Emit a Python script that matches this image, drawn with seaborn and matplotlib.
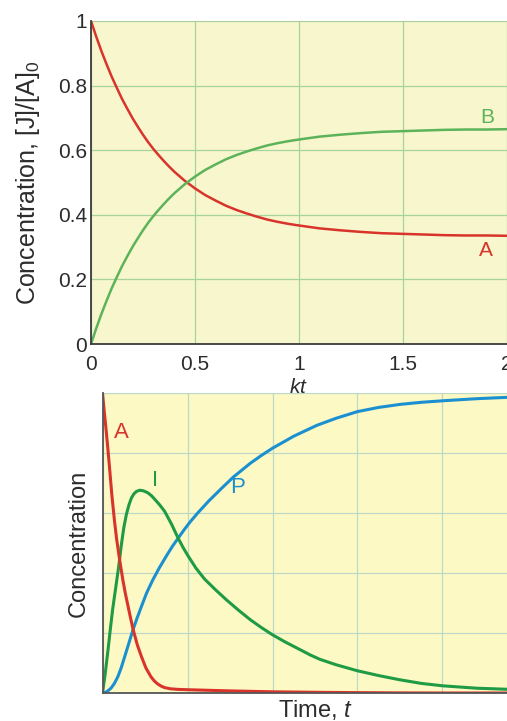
import matplotlib
matplotlib.use("Agg")
import matplotlib.pyplot as plt
import seaborn as sns
import pandas as pd

# ---- Reversible reaction A <=> B (upper panel) ----
kt = [0, 0.025, 0.05, 0.075, 0.1, 0.125, 0.15, 0.175, 0.2, 0.225, 0.25, 0.275,
      0.3, 0.325, 0.35, 0.375, 0.4, 0.45, 0.5, 0.55, 0.6, 0.65, 0.7, 0.75, 0.8,
      0.85, 0.9, 0.95, 1.0, 1.1, 1.2, 1.3, 1.4, 1.5, 1.6, 1.7, 1.8, 1.9, 2.0]
conc_A = [1.000, 0.952, 0.907, 0.866, 0.827, 0.792, 0.758, 0.728, 0.699, 0.673,
          0.648, 0.625, 0.604, 0.585, 0.567, 0.550, 0.534, 0.506, 0.482, 0.461,
          0.444, 0.428, 0.415, 0.404, 0.394, 0.385, 0.378, 0.372, 0.367, 0.358,
          0.352, 0.347, 0.343, 0.341, 0.339, 0.337, 0.336, 0.336, 0.335]
conc_B = [0.000, 0.048, 0.093, 0.134, 0.173, 0.208, 0.242, 0.272, 0.301, 0.327,
          0.352, 0.375, 0.396, 0.415, 0.433, 0.450, 0.466, 0.494, 0.518, 0.539,
          0.556, 0.572, 0.585, 0.596, 0.606, 0.615, 0.622, 0.628, 0.633, 0.642,
          0.648, 0.653, 0.657, 0.659, 0.661, 0.663, 0.664, 0.664, 0.665]
top_xticks = [0, 0.5, 1, 1.5, 2]
top_xticklabels = ["0", "0.5", "1", "1.5", "2"]
top_yticks = [0, 0.2, 0.4, 0.6, 0.8, 1]
top_yticklabels = ["0", "0.2", "0.4", "0.6", "0.8", "1"]

# ---- Consecutive reaction A -> I -> P (lower panel) ----
t_A = [0, 0.02, 0.04, 0.06, 0.085, 0.11, 0.14, 0.165, 0.19, 0.215, 0.24, 0.27,
       0.3, 0.33, 0.36, 0.41, 0.46, 0.51, 0.57, 0.61, 0.65, 0.69, 0.73, 0.8,
       0.89, 1.0, 1.12, 1.5, 2.0, 2.5, 3.0, 3.5, 4.0, 4.8]
val_A = [5.0, 4.7, 4.42, 4.12, 3.72, 3.3, 2.88, 2.58, 2.33, 2.1, 1.88, 1.65,
         1.45, 1.25, 1.06, 0.8, 0.6, 0.42, 0.27, 0.2, 0.15, 0.115, 0.09, 0.07,
         0.06, 0.055, 0.05, 0.035, 0.02, 0.012, 0.006, 0.002, 0.0, 0.0]
t_I = [0, 0.03, 0.065, 0.095, 0.12, 0.16, 0.19, 0.22, 0.25, 0.28, 0.31, 0.34,
       0.37, 0.40, 0.44, 0.48, 0.53, 0.575, 0.62, 0.67, 0.73, 0.81, 0.89, 0.95,
       1.0, 1.1, 1.2, 1.33, 1.46, 1.6, 1.74, 1.87, 2.0, 2.15, 2.3, 2.45, 2.56,
       2.75, 3.0, 3.25, 3.5, 3.75, 4.0, 4.4, 4.8]
val_I = [0, 0.3, 0.72, 1.1, 1.4, 1.8, 2.1, 2.45, 2.75, 2.97, 3.13, 3.25,
         3.32, 3.36, 3.38, 3.37, 3.34, 3.29, 3.22, 3.14, 3.03, 2.82, 2.58, 2.42,
         2.3, 2.08, 1.9, 1.72, 1.55, 1.38, 1.22, 1.09, 0.97, 0.85, 0.74, 0.63, 0.56,
         0.47, 0.37, 0.29, 0.22, 0.16, 0.12, 0.08, 0.06]
t_P = [0, 0.05, 0.1, 0.14, 0.18, 0.22, 0.26, 0.31, 0.36, 0.41, 0.46, 0.52,
       0.59, 0.67, 0.75, 0.82, 0.89, 0.96, 1.03, 1.12, 1.25, 1.4, 1.54, 1.74,
       1.87, 2.0, 2.25, 2.52, 2.75, 3.0, 3.25, 3.5, 3.75, 4.0, 4.4, 4.8]
val_P = [0, 0.02, 0.08, 0.16, 0.27, 0.42, 0.6, 0.83, 1.06, 1.26, 1.45, 1.67,
         1.88, 2.09, 2.28, 2.44, 2.58, 2.72, 2.85, 3.0, 3.2, 3.41, 3.6, 3.83,
         3.96, 4.08, 4.28, 4.46, 4.58, 4.69, 4.76, 4.81, 4.845, 4.87, 4.905, 4.93]

RED = "#d8342b"
GREEN_TOP = "#5cb35a"
GREEN_BOT = "#1f9a45"
BLUE = "#1b90d0"
TXT = "#2c2c2c"

sns.set_style("white")
plt.rcParams["font.family"] = ["Liberation Sans", "DejaVu Sans"]
plt.rcParams["mathtext.fontset"] = "custom"
plt.rcParams["mathtext.rm"] = "Liberation Sans"
plt.rcParams["mathtext.it"] = "Liberation Sans:italic"
plt.rcParams["lines.solid_joinstyle"] = "round"

fig = plt.figure(figsize=(5.07, 7.21), dpi=100)

# ---------------- upper panel ----------------
ax1 = fig.add_axes([91 / 507, 1 - 344 / 721, 415.5 / 507, 323 / 721])
ax1.set_facecolor("#f8f6cd")
df_top = pd.DataFrame({"kt": kt, "A": conc_A, "B": conc_B})
sns.lineplot(data=df_top, x="kt", y="A", ax=ax1, color=RED, lw=1.8, estimator=None)
sns.lineplot(data=df_top, x="kt", y="B", ax=ax1, color=GREEN_TOP, lw=1.8, estimator=None)
ax1.set_xlim(0, 2)
ax1.set_ylim(0, 1)
ax1.set_xticks(top_xticks, top_xticklabels)
ax1.set_yticks(top_yticks, top_yticklabels)
ax1.grid(True, color="#a6d49b", lw=0.9)
ax1.set_axisbelow(True)
for side in ("top", "right"):
    ax1.spines[side].set_visible(False)
for side in ("left", "bottom"):
    ax1.spines[side].set_color("#3c3c3c")
    ax1.spines[side].set_linewidth(1.3)
ax1.tick_params(axis="both", length=0, labelsize=15, labelcolor=TXT)
ax1.tick_params(axis="x", pad=8)
ax1.tick_params(axis="y", pad=3)
ax1.set_xlabel("$kt$", fontsize=15, color=TXT)
ax1.xaxis.set_label_coords(0.5, -0.105)
ax1.set_ylabel("Concentration, [J]/[A]$_\\mathregular{0}$", fontsize=18, color=TXT)
ax1.yaxis.set_label_coords(-0.118, 0.5)
ax1.text(1.908, 0.70, "B", color=GREEN_TOP, fontsize=15, ha="center", va="center")
ax1.text(1.899, 0.291, "A", color=RED, fontsize=15, ha="center", va="center")

# ---------------- lower panel ----------------
ax2 = fig.add_axes([102.5 / 507, 1 - 693 / 721, 425 / 507, 300 / 721])
ax2.set_facecolor("#fdf9c4")
sns.lineplot(x=t_P, y=val_P, ax=ax2, color=BLUE, lw=2.2, estimator=None, sort=False)
sns.lineplot(x=t_I, y=val_I, ax=ax2, color=GREEN_BOT, lw=2.2, estimator=None, sort=False)
sns.lineplot(x=t_A, y=val_A, ax=ax2, color=RED, lw=2.2, estimator=None, sort=False)
ax2.set_xlim(0, 5)
ax2.set_ylim(0, 5)
ax2.set_xticks([0, 1, 2, 3, 4, 5])
ax2.set_yticks([0, 1, 2, 3, 4, 5])
ax2.set_xticklabels([])
ax2.set_yticklabels([])
ax2.grid(True, color="#bcd9c6", lw=0.9)
ax2.set_axisbelow(True)
for side in ("top", "right"):
    ax2.spines[side].set_visible(False)
for side in ("left", "bottom"):
    ax2.spines[side].set_color("#555555")
    ax2.spines[side].set_linewidth(1.3)
ax2.tick_params(axis="both", length=0)
ax2.set_xlabel("Time, $t$", fontsize=17, color=TXT)
ax2.xaxis.set_label_coords(0.502, -0.015)
ax2.set_ylabel("Concentration", fontsize=17, color=TXT)
ax2.yaxis.set_label_coords(-0.03, 0.5)
ax2.text(0.22, 4.35, "A", color=RED, fontsize=16, ha="center", va="center")
ax2.text(0.62, 3.55, "I", color=GREEN_BOT, fontsize=16, ha="center", va="center")
ax2.text(1.59, 3.42, "P", color=BLUE, fontsize=16, ha="center", va="center")

fig.savefig("out.png", dpi=100)
